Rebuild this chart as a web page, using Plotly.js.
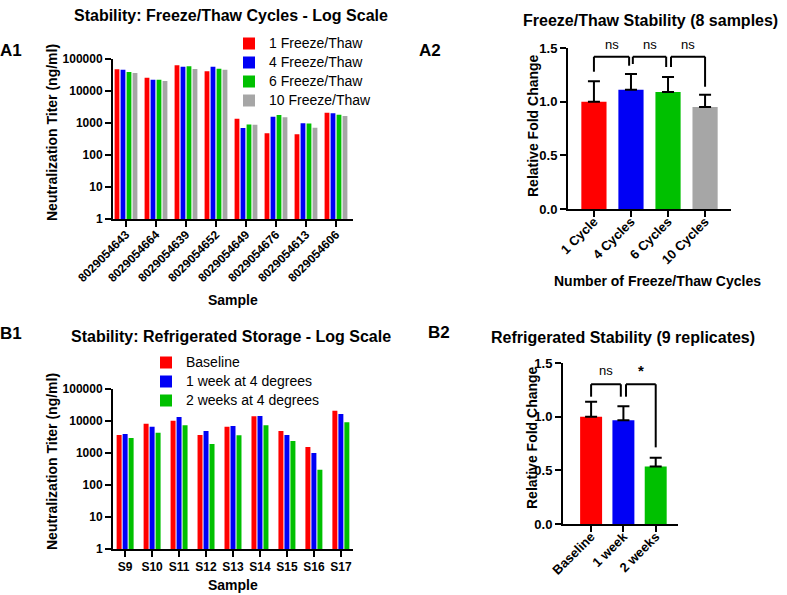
<!DOCTYPE html>
<html>
<head>
<meta charset="utf-8">
<script src="https://cdn.plot.ly/plotly-3.0.1.min.js"></script>
<style>
  html, body { margin: 0; padding: 0; background: #fff; }
  #chart { width: 787px; height: 595px; }
</style>
</head>
<body>
<div id="chart"></div>
<script>
// ---- data ----
const ftSamples = ['8029054643', '8029054664', '8029054639', '8029054652',
                   '8029054649', '8029054676', '8029054613', '8029054606'];
const ft1 = [47500, 26100, 63400, 41200, 1360, 475, 443, 2100];
const ft4 = [46500, 22600, 57500, 57500, 700, 1580, 980, 2000];
const ft6 = [39300, 22600, 59000, 49900, 900, 1780, 960, 1820];
const ft10 = [36500, 20500, 48700, 46500, 880, 1500, 715, 1650];

const cycleLabels = ['1 Cycle', '4 Cycles', '6 Cycles', '10 Cycles'];
const cycleMean = [1.0, 1.11, 1.09, 0.95];
const cycleSem = [0.19, 0.147, 0.14, 0.115];

const fridgeSamples = ['S9', 'S10', 'S11', 'S12', 'S13', 'S14', 'S15', 'S16', 'S17'];
const baseline = [3650, 8260, 10230, 3650, 6650, 14000, 4870, 1540, 21000];
const week1 = [3930, 6650, 13340, 4870, 6980, 14330, 3650, 1000, 16560];
const week2 = [2940, 4310, 7330, 1910, 3560, 7330, 2370, 301, 9070];

const fridgeLabels = ['Baseline', '1 week', '2 weeks'];
const fridgeMean = [1.0, 0.967, 0.536];
const fridgeSem = [0.14, 0.131, 0.081];

const logTicks = [1, 10, 100, 1000, 10000, 100000];
const logTickText = ['1', '10', '100', '1000', '10000', '100000'];

// significance brackets: [from, to, top, left leg end, right leg end, label]
const cycleBrackets = [
    [0, 0.95, 1.419, 1.279, 1.335, 'ns'],
    [1.05, 1.95, 1.419, 1.351, 1.323, 'ns'],
    [2.08, 3.0, 1.419, 1.323, 1.139, 'ns'],
];
const fridgeBrackets = [
    [0, 0.92, 1.302, 1.186, 1.186, 'ns'],
    [1.08, 2.0, 1.302, 1.186, 0.714, '*'],
];

// ---- helpers ----
const W = 787, H = 595;
const FONT = 'Liberation Sans, Arial, sans-serif';
const RED = '#FF0000', BLUE = '#0000F5', GREEN = '#00C000', GRAY = '#A6A6A6';
const px = (x) => x / W;
const py = (y) => 1 - y / H;

// legend rows are spaced by the legend font size; the visible text is drawn a bit bigger
const big = (s) => '<span style="font-size:14px">' + s + '</span>';

const groupedBar = (x, y, name, color, k, n, groupWidth, barWidth, xa, ya, legend) => {
    const slot = groupWidth / n;
    return {
        type: 'bar', x: x, y: y, name: big(name),
        marker: { color: color, line: { width: 0 } },
        width: barWidth,
        offset: -groupWidth / 2 + k * slot + (slot - barWidth) / 2,
        xaxis: xa, yaxis: ya, legend: legend,
    };
};

const meanBar = (x, y, sem, colors, xa, ya) => ({
    type: 'bar', x: x, y: y,
    marker: { color: colors, line: { width: 0 } },
    width: 0.68,
    error_y: {
        type: 'data', symmetric: false, array: sem,
        arrayminus: sem.map(() => 0), color: '#000', thickness: 2, width: 6,
    },
    xaxis: xa, yaxis: ya, showlegend: false,
});

const traces = [
    groupedBar(ftSamples, ft1, '1 Freeze/Thaw', RED, 0, 4, 0.8, 0.16, 'x', 'y', 'legend'),
    groupedBar(ftSamples, ft4, '4 Freeze/Thaw', BLUE, 1, 4, 0.8, 0.16, 'x', 'y', 'legend'),
    groupedBar(ftSamples, ft6, '6 Freeze/Thaw', GREEN, 2, 4, 0.8, 0.16, 'x', 'y', 'legend'),
    groupedBar(ftSamples, ft10, '10 Freeze/Thaw', GRAY, 3, 4, 0.8, 0.16, 'x', 'y', 'legend'),
    meanBar(cycleLabels, cycleMean, cycleSem, [RED, BLUE, GREEN, GRAY], 'x2', 'y2'),
    groupedBar(fridgeSamples, baseline, 'Baseline', RED, 0, 3, 0.667, 0.185, 'x3', 'y3', 'legend2'),
    groupedBar(fridgeSamples, week1, '1 week at 4 degrees', BLUE, 1, 3, 0.667, 0.185, 'x3', 'y3', 'legend2'),
    groupedBar(fridgeSamples, week2, '2 weeks at 4 degrees', GREEN, 2, 3, 0.667, 0.185, 'x3', 'y3', 'legend2'),
    meanBar(fridgeLabels, fridgeMean, fridgeSem, [RED, BLUE, GREEN], 'x4', 'y4'),
];

const tickFont = (size) => ({ family: FONT, size: size, color: '#000', weight: 'bold' });
const baseAxis = {
    showline: true, linecolor: '#000', linewidth: 2,
    ticks: 'outside', ticklen: 6, tickwidth: 2, tickcolor: '#000',
    showgrid: false, zeroline: false, fixedrange: true,
    tickfont: tickFont(12),
};
const catAxis = (x0, x1, range, angle, size, standoff, anchor) => Object.assign({}, baseAxis, {
    domain: [px(x0), px(x1)], type: 'category', range: range,
    tickangle: angle, anchor: anchor,
    tickfont: tickFont(size), ticklabelstandoff: standoff,
});
const logAxis = (top, bottom, anchor) => Object.assign({}, baseAxis, {
    domain: [py(bottom), py(top)], type: 'log', range: [0, 5],
    tickvals: logTicks, ticktext: logTickText, anchor: anchor,
});
const foldAxis = (top, bottom, anchor) => Object.assign({}, baseAxis, {
    domain: [py(bottom), py(top)], range: [0, 1.5], dtick: 0.5,
    tickformat: '.1f', anchor: anchor, tickfont: tickFont(13),
});

const text = (str, x, y, size, opts) => Object.assign({
    text: str, x: px(x), y: py(y), xref: 'paper', yref: 'paper',
    xanchor: 'center', yanchor: 'middle', showarrow: false,
    font: { family: FONT, size: size, color: '#000', weight: 'bold' },
}, opts || {});

const shapes = [];
const annotations = [
    text('Stability: Freeze/Thaw Cycles - Log Scale', 231, 15, 16),
    text('A1', 11, 50, 17),
    text('Neutralization Titer (ng/ml)', 52, 133, 14, { textangle: -90 }),
    text('Sample', 233, 300, 14),
    text('Freeze/Thaw Stability (8 samples)', 650, 21, 16),
    text('A2', 430, 50, 17),
    text('Relative Fold Change', 533, 126, 14, { textangle: -90 }),
    text('Number of Freeze/Thaw Cycles', 657, 281, 14),
    text('Stability: Refrigerated Storage - Log Scale', 231, 336, 16),
    text('B1', 11, 333, 17),
    text('Neutralization Titer (ng/ml)', 52, 462, 14, { textangle: -90 }),
    text('Sample', 233, 585, 14),
    text('Refrigerated Stability (9 replicates)', 623, 337, 16),
    text('B2', 439, 332, 17),
    text('Relative Fold Change', 532, 438, 14, { textangle: -90 }),
];

// labels sit above the axis range, so place them on the axis domain scale
const addBrackets = (list, xa, ya, labelY) => {
    list.forEach(([a, b, top, l, r, label]) => {
        const line = { color: '#000', width: 2 };
        shapes.push({ type: 'line', xref: xa, yref: ya, x0: a, x1: b, y0: top, y1: top, line: line });
        shapes.push({ type: 'line', xref: xa, yref: ya, x0: a, x1: a, y0: top, y1: l, line: line });
        shapes.push({ type: 'line', xref: xa, yref: ya, x0: b, x1: b, y0: top, y1: r, line: line });
        annotations.push({
            text: label, x: (a + b) / 2, y: labelY / 1.5, xref: xa, yref: ya + ' domain',
            showarrow: false, xanchor: 'center', yanchor: 'middle',
            font: { family: FONT, size: label === '*' ? 15 : 13, color: '#000', weight: label === '*' ? 'bold' : 'normal' },
        });
    });
};
addBrackets(cycleBrackets, 'x2', 'y2', 1.537);
addBrackets(fridgeBrackets, 'x4', 'y4', 1.43);

const legendBase = {
    xanchor: 'left', yanchor: 'top', bgcolor: 'rgba(0,0,0,0)',
    font: { family: FONT, size: 12, color: '#000' },
    traceorder: 'normal', tracegroupgap: 0, borderwidth: 0,
};

const layout = {
    width: W, height: H,
    margin: { l: 0, r: 0, t: 0, b: 0 },
    paper_bgcolor: '#fff', plot_bgcolor: 'rgba(0,0,0,0)',
    barmode: 'group',
    showlegend: true,
    font: { family: FONT, color: '#000' },
    xaxis: catAxis(113, 353, [-0.433, 7.567], -45, 12, -4, 'y'),
    yaxis: logAxis(59, 219, 'x'),
    xaxis2: catAxis(568, 731, [-0.7, 3.7], -45, 13, -8, 'y2'),
    yaxis2: foldAxis(48, 209, 'x2'),
    xaxis3: catAxis(113, 353, [-0.45, 8.45], 0, 12, 0, 'y3'),
    yaxis3: logAxis(389, 549, 'x3'),
    xaxis4: catAxis(563, 678, [-0.87, 2.69], -45, 13, -8, 'y4'),
    yaxis4: foldAxis(363, 524, 'x4'),
    legend: Object.assign({}, legendBase, { x: px(229), y: py(29) }),
    legend2: Object.assign({}, legendBase, { x: px(146), y: py(348) }),
    annotations: annotations,
    shapes: shapes,
};

Plotly.newPlot('chart', traces, layout, { displayModeBar: false, staticPlot: true });
</script>
</body>
</html>
